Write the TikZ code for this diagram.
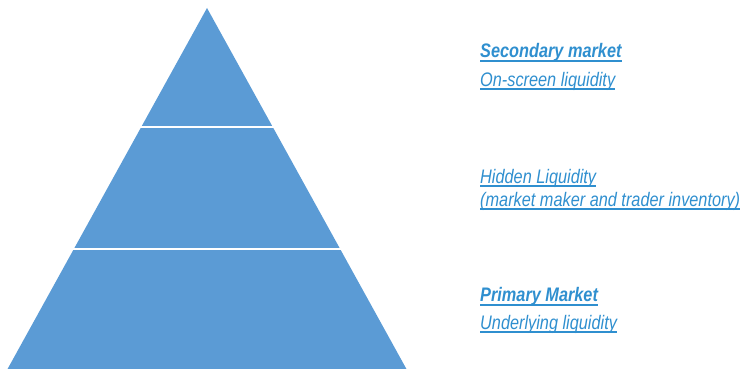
\documentclass[tikz,border=0pt]{standalone}
\usepackage{fontspec}
\usepackage{graphicx}
\setmainfont{Liberation Sans}
\definecolor{pyr}{HTML}{5B9BD5}
\definecolor{lbl}{HTML}{2F8FCF}
\newcommand{\tallt}[1]{\scalebox{1}[1.2]{#1}}
\begin{document}
\begin{tikzpicture}[x=1pt,y=-1pt,
  lab/.style={anchor=base west,inner sep=0pt,text=lbl,font=\fontsize{16.3}{18}\selectfont\itshape},
  labb/.style={lab,font=\fontsize{16.3}{18}\selectfont\itshape\bfseries},
  ul/.style={draw=lbl,line width=1.5pt},
  ulb/.style={draw=lbl,line width=2.4pt}]
\useasboundingbox (0,0) rectangle (744,369);
\fill[pyr] (207,8) -- (407,370) -- (7,370) -- cycle;
\draw[white,line width=2pt] (100,127) -- (320,127);
\draw[white,line width=2pt] (40,249) -- (380,249);
\node[labb] (sm) at (480,57.5) {\tallt{Secondary market}};
\node[lab] (os) at (480,86.5) {\tallt{On-screen liquidity}};
\node[lab] (hl) at (480,183.5) {\tallt{Hidden Liquidity}};
\node[lab] (mm) at (480,206.5) {\tallt{(market maker and trader inventory)}};
\node[labb] (pm) at (480,301.5) {\tallt{Primary Market}};
\node[lab] (ul) at (480,329.5) {\tallt{Underlying liquidity}};
\foreach \n in {os,hl,mm,ul}
  \draw[ul] ([yshift=-2.5pt]\n.base west) -- ([yshift=-2.5pt]\n.base east);
\foreach \n in {sm,pm}
  \draw[ulb] ([yshift=-3.6pt]\n.base west) -- ([yshift=-3.6pt]\n.base east);
\end{tikzpicture}
\end{document}
